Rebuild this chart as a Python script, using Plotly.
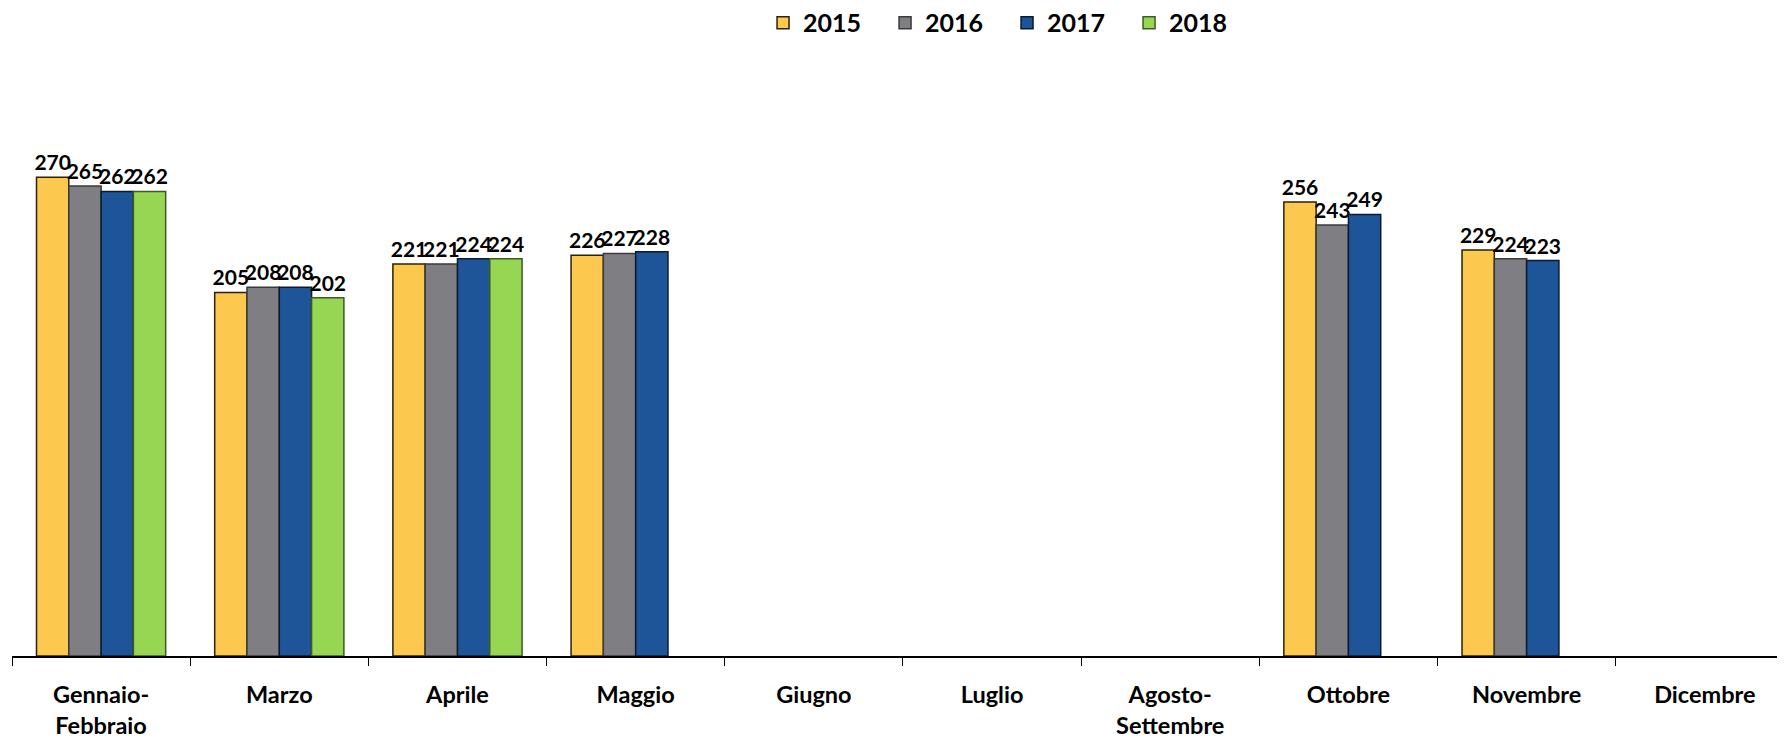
import plotly.graph_objects as go

categories = ["Gennaio-<br>Febbraio", "Marzo", "Aprile", "Maggio", "Giugno", "Luglio",
              "Agosto-<br>Settembre", "Ottobre", "Novembre", "Dicembre"]
years = ["2015", "2016", "2017", "2018"]
v2015 = [270, 205, 221, 226, None, None, None, 256, 229, None]
v2016 = [265, 208, 221, 227, None, None, None, 243, 224, None]
v2017 = [262, 208, 224, 228, None, None, None, 249, 223, None]
v2018 = [262, 202, 224, None, None, None, None, None, None, None]
series = [v2015, v2016, v2017, v2018]
colors = ["#FDC84E", "#7F7F83", "#1D5598", "#96D653"]
edges = ["#2a2208", "#3a3a3a", "#0c1a30", "#3f5a22"]

FONT = "Lato"

fig = go.Figure()
for name, vals, col, ec in zip(years, series, colors, edges):
    fig.add_trace(go.Bar(
        x=categories, y=vals, name=name,
        marker=dict(color=col, line=dict(color=ec, width=1.5)),
        text=[("" if v is None else str(v)) for v in vals],
        textposition="outside", constraintext="none", cliponaxis=False,
        textfont=dict(family=FONT, size=21, color="#000000", weight="bold"),
    ))

fig.update_layout(
    width=1777, height=731, autosize=False,
    margin=dict(l=4, r=0, t=116, b=74),
    paper_bgcolor="white", plot_bgcolor="white",
    barmode="group", bargap=0.275, bargroupgap=0,
    font=dict(family=FONT, color="#000000"),
    legend=dict(orientation="h", x=0.4236, xanchor="left",
                yref="container", y=0.9795, yanchor="middle",
                entrywidth=77, entrywidthmode="pixels",
                font=dict(family=FONT, size=25, color="#000000", weight="bold")),
    xaxis=dict(type="category", range=[-0.5, 9.45],
               showline=True, linecolor="#000000", linewidth=1.5,
               ticks="outside", tickson="boundaries", ticklen=8, tickcolor="#000000",
               tickwidth=1, ticklabelstandoff=17,
               tickfont=dict(family=FONT, size=23.5, color="#000000", weight="bold"),
               showgrid=False),
    yaxis=dict(range=[0, 300], visible=False, showgrid=False),
)

fig.write_html("out.html")
